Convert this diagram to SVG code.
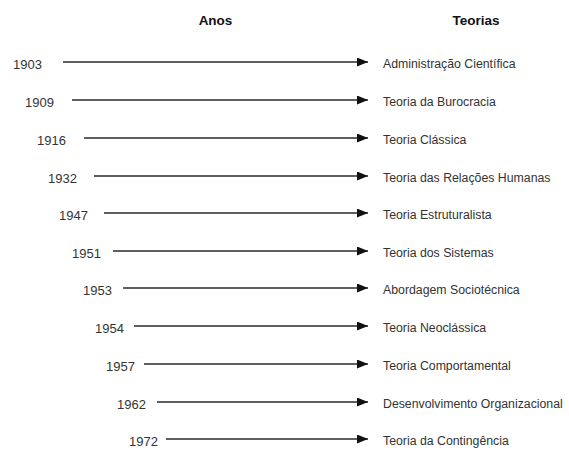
<svg xmlns="http://www.w3.org/2000/svg" width="569" height="458" viewBox="0 0 569 458">
<defs>
<marker id="ah" markerWidth="12" markerHeight="9" refX="11" refY="4.5" orient="auto" markerUnits="userSpaceOnUse">
<path d="M0,0 L11,4.5 L0,9 Z" fill="#111"/>
</marker>
<style>
.hdr{font-family:"Liberation Sans",Arial,sans-serif;font-size:13.5px;font-weight:bold;fill:#111;text-anchor:middle}
.yr{font-family:"Liberation Sans",Arial,sans-serif;font-size:13px;fill:#333}
.th{font-family:"Liberation Sans",Arial,sans-serif;font-size:12.3px;fill:#333}
.cn{stroke:#2a2a2a;stroke-width:1.4;fill:none;marker-end:url(#ah)}
</style>
</defs>
<rect width="569" height="458" fill="#fff"/>
<g id="headers">
<text class="hdr" x="215.5" y="25">Anos</text>
<text class="hdr" x="476" y="25">Teorias</text>
</g>
<g id="connectors">
<line class="cn" x1="63" y1="62" x2="368" y2="62"/>
<line class="cn" x1="72" y1="100" x2="368" y2="100"/>
<line class="cn" x1="84" y1="138" x2="368" y2="138"/>
<line class="cn" x1="94" y1="176" x2="368" y2="176"/>
<line class="cn" x1="104" y1="213" x2="368" y2="213"/>
<line class="cn" x1="113" y1="251" x2="368" y2="251"/>
<line class="cn" x1="123" y1="288" x2="368" y2="288"/>
<line class="cn" x1="134" y1="326" x2="368" y2="326"/>
<line class="cn" x1="144" y1="364" x2="368" y2="364"/>
<line class="cn" x1="157" y1="402" x2="368" y2="402"/>
<line class="cn" x1="166" y1="439" x2="368" y2="439"/>
</g>
<g id="y1903"><text class="yr" x="13" y="69">1903</text></g>
<g id="y1909"><text class="yr" x="25" y="107">1909</text></g>
<g id="y1916"><text class="yr" x="37" y="145">1916</text></g>
<g id="y1932"><text class="yr" x="48" y="183">1932</text></g>
<g id="y1947"><text class="yr" x="59" y="220">1947</text></g>
<g id="y1951"><text class="yr" x="72" y="258">1951</text></g>
<g id="y1953"><text class="yr" x="83" y="295">1953</text></g>
<g id="y1954"><text class="yr" x="95" y="333">1954</text></g>
<g id="y1957"><text class="yr" x="106" y="371">1957</text></g>
<g id="y1962"><text class="yr" x="117" y="409">1962</text></g>
<g id="y1972"><text class="yr" x="129" y="446">1972</text></g>
<g id="t1"><text class="th" x="383" y="68">Administração Científica</text></g>
<g id="t2"><text class="th" x="383" y="106">Teoria da Burocracia</text></g>
<g id="t3"><text class="th" x="383" y="144">Teoria Clássica</text></g>
<g id="t4"><text class="th" x="383" y="182">Teoria das Relações Humanas</text></g>
<g id="t5"><text class="th" x="383" y="219">Teoria Estruturalista</text></g>
<g id="t6"><text class="th" x="383" y="257">Teoria dos Sistemas</text></g>
<g id="t7"><text class="th" x="383" y="294">Abordagem Sociotécnica</text></g>
<g id="t8"><text class="th" x="383" y="332">Teoria Neoclássica</text></g>
<g id="t9"><text class="th" x="383" y="370">Teoria Comportamental</text></g>
<g id="t10"><text class="th" x="383" y="408">Desenvolvimento Organizacional</text></g>
<g id="t11"><text class="th" x="383" y="445">Teoria da Contingência</text></g>
</svg>
